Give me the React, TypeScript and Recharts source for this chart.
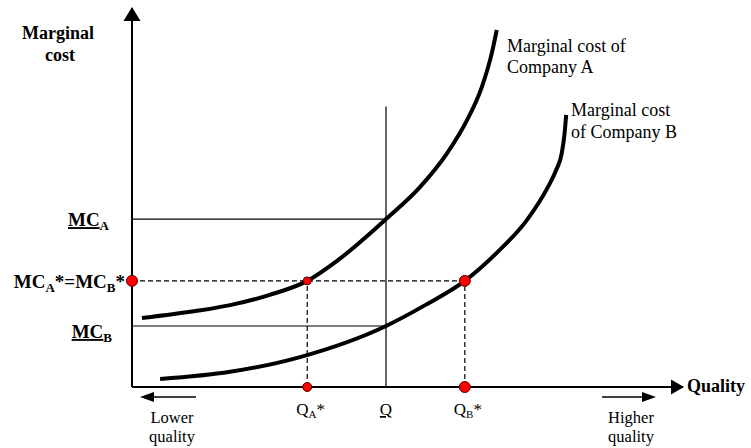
import { LineChart, Line, XAxis, YAxis, ReferenceLine, ReferenceDot } from "recharts";

// quality (x) and marginal cost (y), both on a 0..100 scale
const curveAQuality = [1.8, 11.8, 17.8, 25, 31.8, 37.4, 46.1, 52.3, 57.2, 60.8, 63.5, 65.3, 66.2];
const curveACost = [18.2, 20.1, 21.6, 24.3, 28, 33.5, 44.3, 52.8, 61.7, 70.4, 79.2, 88.1, 94.2];
const curveBQuality = [5.1, 17.8, 30.5, 46.1, 53.2, 60.4, 66.2, 71.7, 75.5, 77, 78, 78.5, 78.8];
const curveBCost = [2.1, 4, 7.9, 16.1, 21.6, 28, 35.4, 44.1, 52.8, 57.3, 61.7, 66.8, 71.8];

const qA = 31.8;
const qBar = 46.1;
const qB = 60.4;
const mcA = 44.3;
const mcStar = 28;
const mcB = 16.1;
const qLineTop = 74;

const qualityTicks = [qA, qBar, qB];
const costTicks = [mcB, mcStar, mcA];

const curveA = curveAQuality.map((q, i) => ({ q, cost: curveACost[i] }));
const curveB = curveBQuality.map((q, i) => ({ q, cost: curveBCost[i] }));

const serif = '"Liberation Serif", "Times New Roman", serif';

function CostTick(props: any) {
  const { y, payload } = props;
  const v = payload.value;
  if (v === mcA) {
    return (
      <text x={109} y={y + 7} textAnchor="end" fontFamily={serif} fontWeight="bold" fontSize={19} fill="#000">
        <tspan textDecoration="underline">MC</tspan>
        <tspan fontSize={13} dy={4}>A</tspan>
      </text>
    );
  }
  if (v === mcB) {
    return (
      <text x={112} y={y + 12} textAnchor="end" fontFamily={serif} fontWeight="bold" fontSize={19} fill="#000">
        <tspan textDecoration="underline">MC</tspan>
        <tspan fontSize={13} dy={4}>B</tspan>
      </text>
    );
  }
  return (
    <text x={125} y={y + 7} textAnchor="end" fontFamily={serif} fontWeight="bold" fontSize={19} fill="#000">
      MC<tspan fontSize={13} dy={4}>A</tspan>
      <tspan dy={-4}>*=MC</tspan>
      <tspan fontSize={13} dy={4}>B</tspan>
      <tspan dy={-4}>*</tspan>
    </text>
  );
}

function QualityTick(props: any) {
  const { x, payload } = props;
  const v = payload.value;
  if (v === qBar) {
    return (
      <text x={x} y={415} textAnchor="middle" fontFamily={serif} fontSize={17} fill="#000" textDecoration="underline">
        Q
      </text>
    );
  }
  return (
    <text x={x - 11} y={415} fontFamily={serif} fontSize={17} fill="#000">
      Q<tspan fontSize={11} dy={3}>{v === qA ? "A" : "B"}</tspan>
      <tspan dy={-3}>*</tspan>
    </text>
  );
}

const UpArrow = (p: any) => (
  <polygon points={`${p.cx},${p.cy - 1} ${p.cx - 8.5},${p.cy + 13} ${p.cx + 8.5},${p.cy + 13}`} fill="#000" />
);
const RightArrow = (p: any) => (
  <polygon points={`${p.cx + 1},${p.cy} ${p.cx - 12},${p.cy - 7.5} ${p.cx - 12},${p.cy + 7.5}`} fill="#000" />
);

export default function App() {
  return (
    <div style={{ position: "absolute", left: 0, top: 0 }}>
      <LineChart width={751} height={448} margin={{ top: 8, right: 68, bottom: 21, left: 0 }}>
        <XAxis
          type="number"
          dataKey="q"
          domain={[0, 100]}
          ticks={qualityTicks}
          tickLine={false}
          axisLine={{ stroke: "#000", strokeWidth: 2 }}
          tick={<QualityTick />}
          height={40}
          allowDataOverflow
        />
        <YAxis
          type="number"
          dataKey="cost"
          domain={[0, 100]}
          ticks={costTicks}
          tickLine={false}
          axisLine={{ stroke: "#000", strokeWidth: 2 }}
          tick={<CostTick />}
          width={132}
          allowDataOverflow
        />

        <ReferenceLine segment={[{ x: 0, y: mcA }, { x: qBar, y: mcA }]} stroke="#000" strokeWidth={1.2} />
        <ReferenceLine segment={[{ x: 0, y: mcB }, { x: qBar, y: mcB }]} stroke="#000" strokeWidth={1.2} />
        <ReferenceLine segment={[{ x: qBar, y: 0 }, { x: qBar, y: qLineTop }]} stroke="#000" strokeWidth={1.2} />
        <ReferenceLine segment={[{ x: 0, y: mcStar }, { x: qB, y: mcStar }]} stroke="#000" strokeWidth={1.2} strokeDasharray="5 3" />
        <ReferenceLine segment={[{ x: qA, y: 0 }, { x: qA, y: mcStar }]} stroke="#000" strokeWidth={1.2} strokeDasharray="5 3" />
        <ReferenceLine segment={[{ x: qB, y: 0 }, { x: qB, y: mcStar }]} stroke="#000" strokeWidth={1.2} strokeDasharray="5 3" />

        <Line data={curveA} dataKey="cost" type="monotone" stroke="#000" strokeWidth={4} dot={false} isAnimationActive={false} />
        <Line data={curveB} dataKey="cost" type="monotone" stroke="#000" strokeWidth={4} dot={false} isAnimationActive={false} />

        <ReferenceDot x={0} y={100} ifOverflow="visible" shape={<UpArrow />} />
        <ReferenceDot x={100} y={0} ifOverflow="visible" shape={<RightArrow />} />

        <ReferenceDot x={0} y={mcStar} r={5.5} fill="#ff0000" stroke="#500" strokeWidth={1} ifOverflow="visible" />
        <ReferenceDot x={qA} y={mcStar} r={4} fill="#ff0000" stroke="#500" strokeWidth={1} ifOverflow="visible" />
        <ReferenceDot x={qB} y={mcStar} r={5.5} fill="#ff0000" stroke="#500" strokeWidth={1} ifOverflow="visible" />
        <ReferenceDot x={qA} y={0} r={4.5} fill="#ff0000" stroke="#500" strokeWidth={1} ifOverflow="visible" />
        <ReferenceDot x={qB} y={0} r={5.5} fill="#ff0000" stroke="#500" strokeWidth={1} ifOverflow="visible" />

        <g fontFamily={serif} fill="#000">
          <text x={58} y={39} textAnchor="middle" fontWeight="bold" fontSize={18}>Marginal</text>
          <text x={60} y={61} textAnchor="middle" fontWeight="bold" fontSize={18}>cost</text>
          <text x={687} y={392} fontWeight="bold" fontSize={18}>Quality</text>

          <text x={507} y={52} fontSize={18}>Marginal cost of</text>
          <text x={507} y={73} fontSize={18}>Company A</text>
          <text x={571} y={116} fontSize={18}>Marginal cost</text>
          <text x={571} y={138} fontSize={18}>of Company B</text>

          <text x={172} y={423} textAnchor="middle" fontSize={16.5}>Lower</text>
          <text x={172} y={442} textAnchor="middle" fontSize={16.5}>quality</text>
          <text x={631} y={423} textAnchor="middle" fontSize={16.5}>Higher</text>
          <text x={631} y={442} textAnchor="middle" fontSize={16.5}>quality</text>
        </g>
        <g>
          <line x1={150} y1={397} x2={196} y2={397} stroke="#000" strokeWidth={1.5} />
          <polygon points="140,397 154,392 154,402" fill="#000" />
          <line x1={602} y1={397} x2={646} y2={397} stroke="#000" strokeWidth={1.5} />
          <polygon points="656,397 642,392 642,402" fill="#000" />
        </g>
      </LineChart>
    </div>
  );
}
